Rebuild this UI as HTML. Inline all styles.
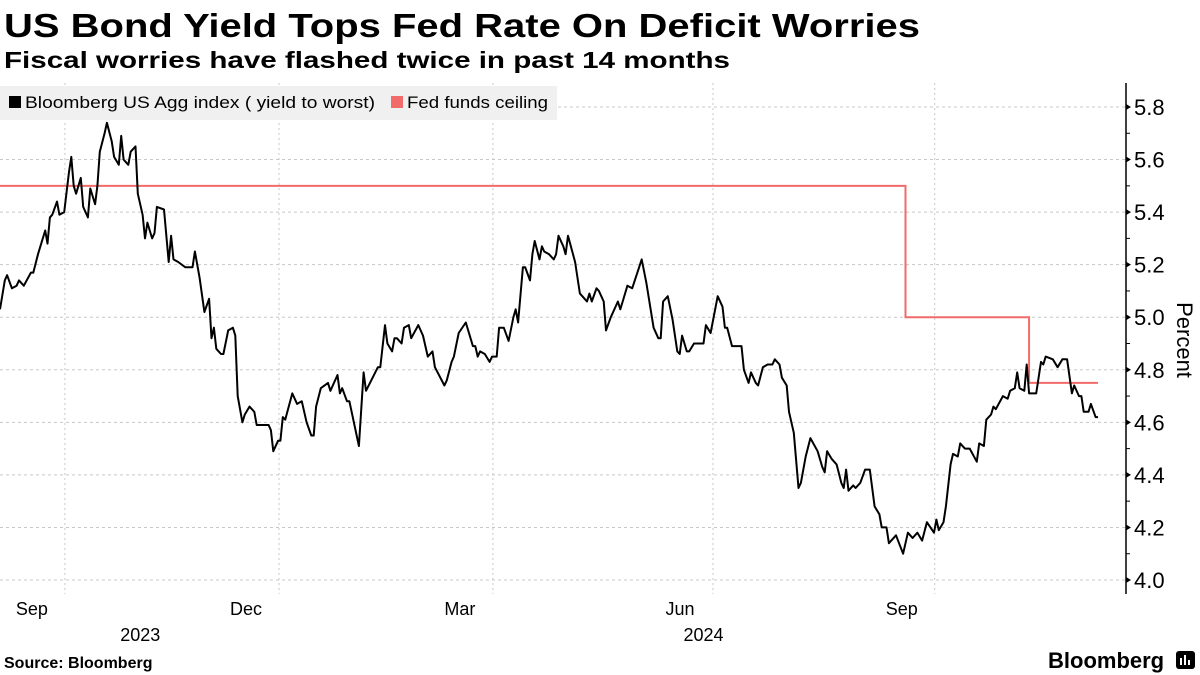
<!DOCTYPE html>
<html><head><meta charset="utf-8"><style>
body{margin:0;background:#fff;width:1200px;height:675px;overflow:hidden;font-family:"Liberation Sans",sans-serif}
svg{display:block}
</style></head><body>
<svg id="chart" width="1200" height="675" xmlns="http://www.w3.org/2000/svg">
<text x="4" y="37" font-size="33" font-weight="bold" textLength="916" lengthAdjust="spacingAndGlyphs">US Bond Yield Tops Fed Rate On Deficit Worries</text>
<text x="4" y="68" font-size="23" font-weight="bold" textLength="726" lengthAdjust="spacingAndGlyphs">Fiscal worries have flashed twice in past 14 months</text>
<g id="grid"></g>
<rect x="0" y="86" width="557" height="34" fill="#f0f0f0"/>
<g>
<rect x="9" y="96" width="12" height="12" fill="#000"/>
<text x="25" y="108" font-size="17" textLength="350" lengthAdjust="spacingAndGlyphs">Bloomberg US Agg index ( yield to worst)</text></g>
<g>
<rect x="391" y="96" width="12" height="12" fill="#f26b6b"/>
<text x="407" y="108" font-size="17" textLength="141" lengthAdjust="spacingAndGlyphs">Fed funds ceiling</text></g>
<g id="series"></g>
<g id="axes"></g>
<text transform="translate(1177,340) rotate(90)" font-size="22" text-anchor="middle">Percent</text>
<text x="4" y="668" font-size="16" font-weight="bold">Source: Bloomberg</text>
<text x="1048" y="668" font-size="22" font-weight="bold">Bloomberg</text>
<g>
<rect x="1176" y="651" width="19" height="18" rx="3" fill="#000"/>
<rect x="1180" y="658" width="2" height="7" fill="#fff"/><rect x="1184" y="655" width="2" height="10" fill="#fff"/><rect x="1188" y="660" width="2" height="5" fill="#fff"/>
</g>
</svg>
<script>
const aggDays=[0,2,3,5,7,8,10,13,14,16,17,19,20,21,22,24,25,27,29,30,31,32,34,35,37,38,40,41,42,44,45,47,48,50,51,52,54,55,57,58,60,61,62,64,65,66,69,71,72,73,75,78,81,82,84,86,88,89,90,91,93,94,96,98,99,100,102,103,105,107,108,110,113,114,115,117,118,119,120,123,125,127,129,131,132,133,135,138,139,142,143,144,146,147,151,153,154,159,160,162,163,165,166,167,169,170,172,173,176,178,180,182,183,187,188,190,191,193,196,199,200,201,202,204,206,207,209,210,212,214,216,217,218,220,221,223,224,225,227,228,229,231,233,234,235,237,238,239,242,244,245,247,248,249,251,252,254,255,257,260,261,262,264,266,270,272,275,277,278,279,281,283,285,286,287,289,290,292,296,297,299,302,304,305,306,308,310,312,313,315,316,318,319,321,323,325,326,328,329,331,332,334,336,337,339,341,344,346,347,348,350,352,354,355,356,357,359,360,362,364,366,368,370,371,373,374,377,380,382,384,386,388,390,393,394,395,397,398,400,401,403,404,406,408,411,412,414,415,417,418,419,422,424,425,427,428,429,431,432,433,436,438,439,440,443,445,447,449,451,452,454,455,456,458,459,461,462];
const aggYield=[5.03,5.14,5.16,5.11,5.12,5.14,5.12,5.17,5.17,5.24,5.27,5.33,5.28,5.38,5.39,5.44,5.39,5.40,5.55,5.61,5.50,5.47,5.53,5.42,5.38,5.49,5.43,5.50,5.63,5.70,5.74,5.67,5.61,5.58,5.69,5.60,5.58,5.63,5.65,5.47,5.39,5.30,5.36,5.30,5.32,5.42,5.41,5.21,5.31,5.22,5.21,5.19,5.19,5.25,5.15,5.02,5.07,4.92,4.96,4.88,4.86,4.86,4.95,4.96,4.93,4.70,4.60,4.63,4.66,4.64,4.59,4.59,4.59,4.57,4.49,4.53,4.53,4.62,4.61,4.71,4.67,4.68,4.60,4.55,4.55,4.66,4.73,4.75,4.72,4.78,4.71,4.73,4.68,4.68,4.51,4.79,4.72,4.81,4.81,4.97,4.90,4.87,4.92,4.92,4.90,4.96,4.97,4.92,4.97,4.93,4.85,4.87,4.81,4.74,4.76,4.83,4.85,4.94,4.98,4.89,4.89,4.85,4.87,4.86,4.83,4.85,4.85,4.96,4.96,4.91,5.00,5.03,4.98,5.19,5.19,5.14,5.24,5.29,5.22,5.27,5.25,5.24,5.22,5.24,5.31,5.27,5.24,5.31,5.21,5.09,5.08,5.06,5.09,5.06,5.11,5.10,5.06,4.95,5.00,5.06,5.03,5.06,5.12,5.11,5.22,5.13,4.96,4.92,4.92,5.06,5.08,4.99,4.87,4.86,4.93,4.87,4.87,4.90,4.90,4.97,4.94,5.08,5.04,4.96,4.96,4.89,4.89,4.89,4.80,4.75,4.79,4.75,4.74,4.81,4.82,4.82,4.84,4.82,4.77,4.74,4.64,4.56,4.35,4.37,4.47,4.54,4.49,4.43,4.41,4.49,4.46,4.44,4.37,4.35,4.42,4.34,4.36,4.35,4.37,4.42,4.42,4.28,4.25,4.20,4.20,4.14,4.17,4.10,4.18,4.16,4.18,4.15,4.22,4.18,4.23,4.19,4.22,4.28,4.44,4.48,4.47,4.52,4.50,4.50,4.45,4.52,4.51,4.61,4.63,4.66,4.65,4.70,4.69,4.72,4.73,4.79,4.73,4.72,4.82,4.71,4.71,4.83,4.82,4.85,4.84,4.81,4.84,4.84,4.71,4.74,4.70,4.70,4.64,4.64,4.67,4.62,4.62];
const fedStepDays=[0,381,433,462];
const fedStepRates=[5.5,5.0,4.75];
const yTicks=[4.0,4.2,4.4,4.6,4.8,5.0,5.2,5.4,5.6,5.8];
const monthTickDays=[27.3,117.4,207.4,300,393.3];
const monthLabels=["Sep","Dec","Mar","Jun","Sep"];
const yearLabels=["2023","2024"];
const yearLabelDays=[59,296];

const NS="http://www.w3.org/2000/svg";
const X0=0,X1=1098,D0=0,D1=462;
const xS=d=>X0+(d-D0)/(D1-D0)*(X1-X0);
const yS=v=>580-(v-4.0)/(5.8-4.0)*(580-107);
function mk(tag,attrs,parent){const e=document.createElementNS(NS,tag);for(const k in attrs)e.setAttribute(k,attrs[k]);parent.appendChild(e);return e;}
const grid=document.getElementById('grid'),axes=document.getElementById('axes'),series=document.getElementById('series');
const AX=1126;
yTicks.forEach((t,i)=>{
 const g=mk('line',{x1:0,x2:AX,y1:yS(t),y2:yS(t),stroke:'#c8c8c8','stroke-dasharray':'3,3','stroke-width':1},grid);
 
 
 const tr=mk('path',{d:`M${AX},${yS(t)-3}L${AX+5},${yS(t)}L${AX},${yS(t)+3}Z`,fill:'#000'},axes);
 
 
 const lb=mk('text',{x:AX+8,y:yS(t)+8,'font-size':22},axes);
 lb.textContent=t.toFixed(1);
 
 
 if(i<yTicks.length-1){const m=mk('line',{x1:AX,x2:AX+4,y1:yS(t+0.1),y2:yS(t+0.1),stroke:'#000'},axes);
 
 }
});
const yl=mk('line',{x1:AX,x2:AX,y1:83,y2:594,stroke:'#000','stroke-width':1.5},axes);


monthTickDays.forEach((d,i)=>{
 const g=mk('line',{x1:xS(d),x2:xS(d),y1:83,y2:594,stroke:'#c8c8c8','stroke-dasharray':'2,3'},grid);
 
 
 const lb=mk('text',{x:xS(d)-33,y:615,'font-size':18,'text-anchor':'middle'},axes);
 lb.textContent=monthLabels[i];
 
 
});
yearLabels.forEach((y,i)=>{
 const lb=mk('text',{x:xS(yearLabelDays[i]),y:641,'font-size':18,'text-anchor':'middle'},axes);
 lb.textContent=y;
 
 
});
let fd='';
fedStepRates.forEach((r,i)=>{fd+=(i?'L':'M')+xS(fedStepDays[i])+','+yS(r)+'L'+xS(fedStepDays[i+1])+','+yS(r);});
const fp=mk('path',{d:fd,fill:'none',stroke:'#f26b6b','stroke-width':2},series);


const ad=aggDays.map((d,i)=>(i?'L':'M')+xS(d).toFixed(1)+','+yS(aggYield[i]).toFixed(1)).join('');
const ap=mk('path',{d:ad,fill:'none',stroke:'#000','stroke-width':2,'stroke-linejoin':'round'},series);


</script>
</body></html>
